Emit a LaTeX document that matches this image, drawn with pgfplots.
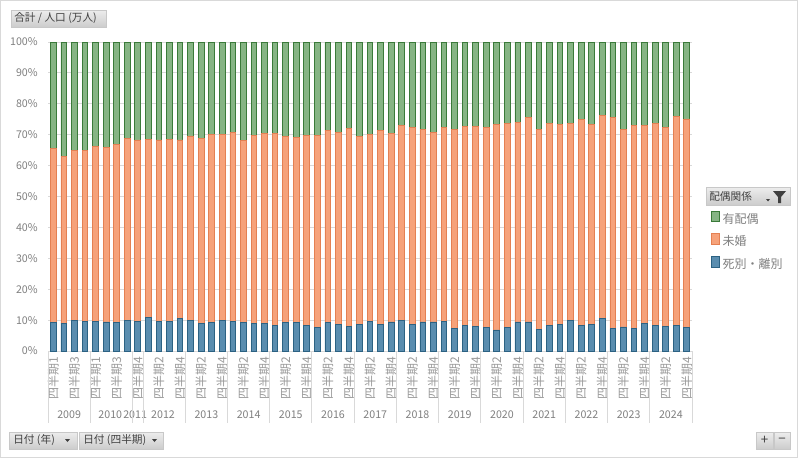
\documentclass[border=0pt]{standalone}
\usepackage{fontspec}
\setmainfont{Noto Sans CJK JP}
\usepackage{pgfplots}
\pgfplotsset{compat=1.18}
\usepackage{pgfplotstable}

\definecolor{grfill}{HTML}{86B484}
\definecolor{grdraw}{HTML}{3A7A39}
\definecolor{orfill}{HTML}{F6A27A}
\definecolor{ordraw}{HTML}{E48052}
\definecolor{blfill}{HTML}{5A8DAF}
\definecolor{bldraw}{HTML}{2C6283}
\definecolor{txt}{HTML}{7F7F7F}
\definecolor{qtxt}{HTML}{9A9A9A}
\definecolor{gridc}{HTML}{D9D9D9}
\definecolor{btntxt}{HTML}{404040}
\definecolor{btnedge}{HTML}{C8C8C8}

% x = category index, bl = 死別・離別, or = 未婚, gr = 有配偶 (percent)
\pgfplotstableread{
x  bl    or    gr
0  9.3  56.3  34.4
1  9.0  53.9  37.1
2  10.0 55.0  35.0
3  9.6  55.2  35.2
4  9.5  56.6  33.9
5  9.4  56.4  34.2
6  9.2  57.7  33.1
7  9.8  59.0  31.2
8  9.7  58.6  31.7
9  10.8 57.7  31.5
10 9.5  58.8  31.7
11 9.6  58.9  31.5
12 10.6 57.7  31.7
13 9.8  59.8  30.4
14 9.0  59.8  31.2
15 9.2  61.0  29.8
16 10.0 60.1  29.9
17 9.5  61.1  29.4
18 9.3  58.8  31.9
19 8.8  61.0  30.2
20 9.0  61.3  29.7
21 8.2  62.2  29.6
22 9.3  60.0  30.7
23 9.2  60.0  30.8
24 8.4  61.3  30.3
25 7.5  62.2  30.3
26 9.2  62.1  28.7
27 8.6  62.0  29.4
28 7.9  64.0  28.1
29 8.7  60.7  30.6
30 9.5  60.5  30.0
31 8.6  62.8  28.6
32 9.4  60.9  29.7
33 9.9  63.0  27.1
34 8.7  63.6  27.7
35 9.4  62.3  28.3
36 9.4  61.2  29.4
37 9.5  62.8  27.7
38 7.2  64.5  28.3
39 8.3  64.4  27.3
40 7.9  64.7  27.4
41 7.5  64.9  27.6
42 6.8  66.6  26.6
43 7.7  65.8  26.5
44 9.4  64.5  26.1
45 9.4  66.3  24.3
46 7.1  64.6  28.3
47 8.2  65.3  26.5
48 8.6  64.8  26.6
49 9.8  63.8  26.4
50 8.3  66.6  25.1
51 8.6  64.8  26.6
52 10.5 65.7  23.8
53 7.2  68.4  24.4
54 7.8  63.9  28.3
55 7.2  65.7  27.1
56 8.8  64.3  26.9
57 8.3  65.4  26.3
58 7.9  64.5  27.6
59 8.2  67.6  24.2
60 7.7  67.4  24.9
}\data

\tikzset{
  btn/.style={draw=btnedge, top color=white!93!black, bottom color=white!80!black},
  btnlbl/.style={anchor=west, inner sep=0pt, text=btntxt, font=\fontsize{8}{10}\selectfont},
  yearlbl/.style={yshift=-48pt, text=txt, font=\fontsize{8}{10}\selectfont},
  legimg/.style={legend image code/.code={\draw[##1, line width=0.6pt] (0pt,-3pt) rectangle (6pt,3pt);}},
}

\begin{document}
\begin{tikzpicture}
\begin{scope}[x=0.75pt, y=-0.75pt]
  \path[use as bounding box] (0,0) rectangle (798,458);
  \draw[gridc] (0.5,0.5) rectangle (797.5,457.5);
  % field buttons
  \draw[btn] (11,10) rectangle (106,27);
  \node[btnlbl] at (14,18.5) {合計 / 人口 (万人)};
  \draw[btn] (706,187) rectangle (790,205);
  \node[btnlbl] at (709,196) {配偶関係};
  \fill[btntxt] (766,199) -- (770,199) -- (768,201.5) -- cycle;
  \fill[btntxt] (773,191) -- (786,191) -- (781,197) -- (781,203) -- (778,203) -- (778,197) -- cycle;
  \draw[btn] (9,432) rectangle (77,449);
  \node[btnlbl] at (13,440.5) {日付 (年)};
  \fill[btntxt] (65,439) -- (70,439) -- (67.5,442) -- cycle;
  \draw[btn] (79,432) rectangle (163,449);
  \node[btnlbl] at (83,440.5) {日付 (四半期)};
  \fill[btntxt] (152,439) -- (157,439) -- (154.5,442) -- cycle;
  \draw[btn] (756,432) rectangle (773,449);
  \node[btnlbl, anchor=center, font=\fontsize{10}{10}\selectfont] at (764.5,440.5) {+};
  \draw[btn] (774,432) rectangle (790,449);
  \node[btnlbl, anchor=center, font=\fontsize{10}{10}\selectfont] at (782,440.5) {−};
\end{scope}

\begin{axis}[
  at={(36pt,-263.25pt)}, anchor=south west,
  width=483pt, height=231.75pt, scale only axis,
  ybar stacked, bar width=0.54,
  xmin=-0.5, xmax=60.5, ymin=0, ymax=100,
  axis line style={draw=none}, major tick length=0pt,
  ytick={0,10,...,100},
  yticklabel={\pgfmathprintnumber{\tick}\%},
  /pgf/number format/assume math mode=true,
  ymajorgrids, grid style={gridc, line width=0.75pt},
  xtick={0,2,...,60},
  xticklabels={四半期1,四半期3,四半期1,四半期3,四半期4,
    四半期2,四半期4,四半期2,四半期4,四半期2,四半期4,四半期2,四半期4,
    四半期2,四半期4,四半期2,四半期4,四半期2,四半期4,四半期2,四半期4,
    四半期2,四半期4,四半期2,四半期4,四半期2,四半期4,四半期2,四半期4,
    四半期2,四半期4},
  xticklabel style={yshift=-4pt, rotate=90, anchor=east, inner sep=0pt,
    text=qtxt, font=\fontsize{9}{10}\selectfont},
  yticklabel style={xshift=-7.5pt, anchor=east, inner sep=0pt,
    text=txt, font=\fontsize{8}{10}\selectfont},
  clip=false,
  reverse legend,
  legend style={at={(1.0295,0.456)}, anchor=north west, draw=none, fill=none,
    font=\fontsize{9}{11}\selectfont, text=txt, row sep=4pt,
    inner sep=0pt},
  legend cell align=left,
]
\addplot[fill=blfill, draw=bldraw, line width=0.6pt, legimg] table[x=x, y=bl] {\data};
\addlegendentry{死別・離別}
\addplot[fill=orfill, draw=ordraw, line width=0.6pt, legimg] table[x=x, y=or] {\data};
\addlegendentry{未婚}
\addplot[fill=grfill, draw=grdraw, line width=0.6pt, legimg] table[x=x, y=gr] {\data};
\addlegendentry{有配偶}

\pgfplotsinvokeforeach{-0.5,3.5,7.5,8.5,12.5,16.5,20.5,24.5,28.5,32.5,36.5,40.5,44.5,48.5,52.5,56.5,60.5}{
  \draw[gridc, line width=0.75pt] (axis cs:#1,0) -- ++(0pt,-54pt);
}
\node[yearlbl] at (axis cs:1.5,0) {2009};
\node[yearlbl] at (axis cs:5.4,0) {2010};
\node[yearlbl] at (axis cs:7.75,0) {2011};
\node[yearlbl] at (axis cs:10.4,0) {2012};
\node[yearlbl] at (axis cs:14.5,0) {2013};
\node[yearlbl] at (axis cs:18.5,0) {2014};
\node[yearlbl] at (axis cs:22.5,0) {2015};
\node[yearlbl] at (axis cs:26.5,0) {2016};
\node[yearlbl] at (axis cs:30.5,0) {2017};
\node[yearlbl] at (axis cs:34.5,0) {2018};
\node[yearlbl] at (axis cs:38.5,0) {2019};
\node[yearlbl] at (axis cs:42.5,0) {2020};
\node[yearlbl] at (axis cs:46.5,0) {2021};
\node[yearlbl] at (axis cs:50.5,0) {2022};
\node[yearlbl] at (axis cs:54.5,0) {2023};
\node[yearlbl] at (axis cs:58.5,0) {2024};
\end{axis}
\end{tikzpicture}
\end{document}
